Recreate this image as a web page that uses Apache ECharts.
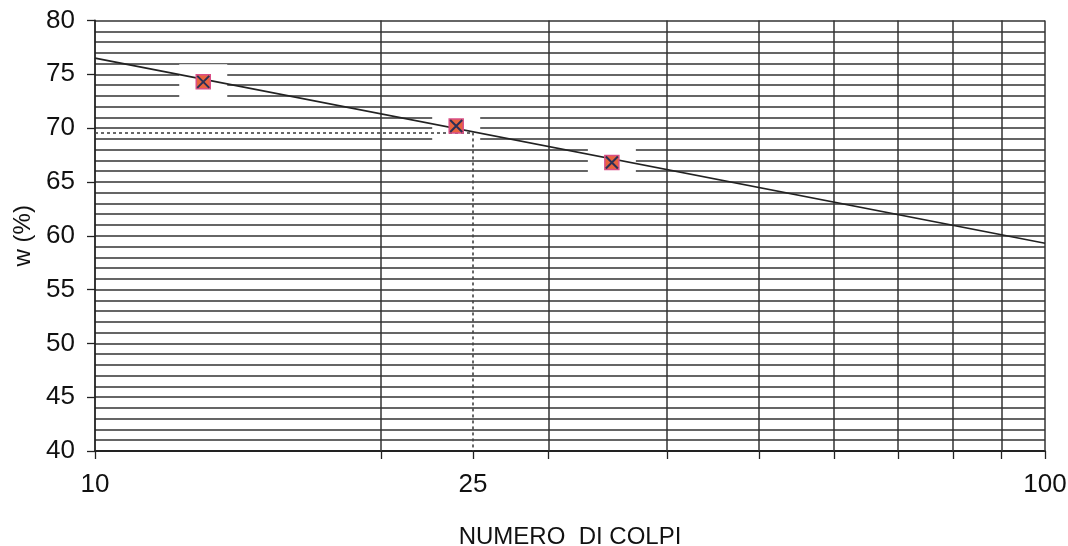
<!DOCTYPE html>
<html><head><meta charset="utf-8">
<script src="https://cdn.jsdelivr.net/npm/echarts@6/dist/echarts.min.js"></script>
<style>html,body{margin:0;padding:0;background:#fff}#c{width:1068px;height:546px}</style>
</head><body><div id="c"></div>
<script>
// Data
const blows = [13, 24, 35];               // NUMERO DI COLPI
const water = [74.3, 70.2, 66.8];         // w (%)
const trendBlows = [10, 100];
const trendWater = [76.5, 59.3];
const gridBlows = [20, 30, 40, 50, 60, 70, 80, 90, 100];
const readBlows = 25;
const readWater = 69.6;
const xLabelValues = [10, 25, 100];
const xTickValues = [10, 20, 25, 30, 40, 50, 60, 70, 80, 90, 100];
const yMin = 40, yMax = 80, yStep = 5;

const font = 'Liberation Sans, Arial, sans-serif';
const gridColor = '#333';

const pts = blows.map((b, i) => [b, water[i]]);

const chart = echarts.init(document.getElementById('c'), null, {renderer: 'canvas'});
chart.setOption({
  animation: false,
  backgroundColor: '#fff',
  grid: {left: 95, right: 23, top: 20.5, bottom: 95, show: false, containLabel: false, outerBoundsMode: 'none'},
  xAxis: {
    type: 'log', logBase: 10, min: 10, max: 100,
    name: 'NUMERO  DI COLPI', nameLocation: 'middle', nameGap: 74,
    nameTextStyle: {fontFamily: font, fontSize: 24, color: '#111'},
    axisLine: {show: true, lineStyle: {color: '#222', width: 1.8}},
    axisTick: {show: true, inside: false, length: 8, customValues: xTickValues, lineStyle: {color: '#222', width: 1.3}},
    axisLabel: {show: true, customValues: xLabelValues, margin: 21, fontFamily: font, fontSize: 26, color: '#111'},
    splitLine: {show: false},
    minorTick: {show: false}, minorSplitLine: {show: false}
  },
  yAxis: {
    type: 'value', min: yMin, max: yMax, interval: yStep,
    name: 'w (%)', nameLocation: 'middle', nameGap: 58, nameRotate: 90,
    nameTextStyle: {fontFamily: font, fontSize: 24, color: '#111'},
    axisLine: {show: true, lineStyle: {color: '#222', width: 1.8}},
    axisTick: {show: true, inside: false, length: 8, lineStyle: {color: '#222', width: 1.3}},
    axisLabel: {margin: 20, fontFamily: font, fontSize: 26, color: '#111'},
    splitLine: {show: true, lineStyle: {color: gridColor, width: 1.5}},
    minorTick: {show: false, splitNumber: 5},
    minorSplitLine: {show: true, lineStyle: {color: gridColor, width: 1.5}}
  },
  series: [
    {
      // white patches behind the data points
      type: 'scatter', z: 2, silent: true,
      data: pts, symbol: 'rect', symbolSize: [48, 35],
      itemStyle: {color: '#fff', opacity: 1},
      markLine: {
        z: 1, silent: true, symbol: 'none', animation: false,
        label: {show: false},
        lineStyle: {color: gridColor, width: 1.5, type: 'solid'},
        data: gridBlows.map(v => [{coord: [v, yMin]}, {coord: [v, yMax]}])
      }
    },
    {
      type: 'line', z: 3, silent: true, symbol: 'none',
      data: trendBlows.map((b, i) => [b, trendWater[i]]),
      lineStyle: {color: '#222', width: 1.7},
      markLine: {
        z: 5, silent: true, symbol: 'none', animation: false,
        label: {show: false},
        lineStyle: {color: '#444', width: 1.6, type: [3, 3]},
        data: [
          [{coord: [10, readWater]}, {coord: [readBlows, readWater]}],
          [{coord: [readBlows, readWater]}, {coord: [readBlows, yMin]}]
        ]
      }
    },
    {
      type: 'scatter', z: 6, silent: true,
      data: pts, symbol: 'rect', symbolSize: 14,
      itemStyle: {color: '#e8643f', borderColor: '#d94f86', borderWidth: 1.5, opacity: 1}
    },
    {
      type: 'scatter', z: 7, silent: true,
      data: pts, symbol: 'path://M0,0L10,10M10,0L0,10', symbolSize: 12,
      itemStyle: {color: 'transparent', borderColor: '#2c2f55', borderWidth: 2, opacity: 1}
    }
  ]
});
</script>
</body></html>
